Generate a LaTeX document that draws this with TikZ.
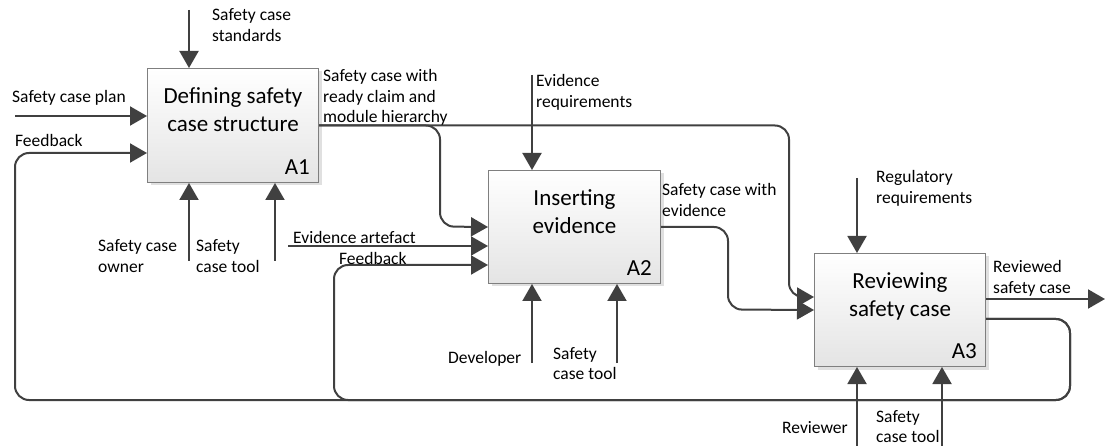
\documentclass[tikz,border=0pt]{standalone}
\usepackage{fontspec}
\setmainfont{Carlito}
\usetikzlibrary{arrows.meta,shadows}
\definecolor{ink}{HTML}{404040}
\definecolor{boxline}{HTML}{7F7F7F}
\definecolor{boxlow}{HTML}{E4E4E4}
\begin{document}
\begin{tikzpicture}[x=1pt,y=-1pt,
  flow/.style={draw=ink, line width=2pt, rounded corners=14pt,
    -{Triangle[length=17pt,width=19pt]}},
  proc/.style={draw=boxline, line width=1pt, top color=white, bottom color=boxlow,
    anchor=north west, inner sep=0pt,
    drop shadow={shadow xshift=3pt, shadow yshift=-3pt, fill=black!12, opacity=1}},
  title/.style={font=\fontsize{23}{28.5}\selectfont, align=center, anchor=base, inner sep=0pt},
  tag/.style={font=\fontsize{23}{28}\selectfont, anchor=base east, inner sep=0pt},
  lab/.style={font=\fontsize{17.5}{20.5}\selectfont, align=left, anchor=base west, inner sep=0pt},
]
\useasboundingbox (0,0) rectangle (1114,446);

% activity boxes
\node[proc, minimum width=171pt, minimum height=114pt] (a1) at (147,68) {};
\node[proc, minimum width=172pt, minimum height=113pt] (a2) at (488,170) {};
\node[proc, minimum width=171pt, minimum height=113pt] (a3) at (814,253) {};

% titles (the base anchor sits on the last line)
\node[title] (a1t) at ([yshift=-64pt]a1.north) {Defining safety\\case structure};
\node[title] (a2t) at ([yshift=-64pt]a2.north) {Inserting\\evidence};
\node[title] (a3t) at ([yshift=-64pt]a3.north) {Reviewing\\safety case};

\node[tag] (a1n) at ([xshift=-9pt,yshift=8.5pt]a1.south east) {A1};
\node[tag] (a2n) at ([xshift=-9pt,yshift=8.5pt]a2.south east) {A2};
\node[tag] (a3n) at ([xshift=-9pt,yshift=8.5pt]a3.south east) {A3};

% free ends of the arrows
\coordinate (std) at (189,10);
\coordinate (plan) at (15,116);
\coordinate (own) at (189,261);
\coordinate (tl1) at (275,261);
\coordinate (art) at (288,246);
\coordinate (req) at (532,75);
\coordinate (dev) at (532,363);
\coordinate (tl2) at (617,363);
\coordinate (reg) at (857,178);
\coordinate (rvw) at (857,446);
\coordinate (tl3) at (942,446);
\coordinate (done) at (1105,299);

% controls and mechanisms
\draw[flow] (std) -- (std |- a1.north);
\draw[flow] (own) -- (own |- a1.south);
\draw[flow] (tl1) -- (tl1 |- a1.south);
\draw[flow] (req) -- (req |- a2.north);
\draw[flow] (dev) -- (dev |- a2.south);
\draw[flow] (tl2) -- (tl2 |- a2.south);
\draw[flow] (reg) -- (reg |- a3.north);
\draw[flow] (rvw) -- (rvw |- a3.south);
\draw[flow] (tl3) -- (tl3 |- a3.south);

% inputs and outputs
\draw[flow] (plan) -- (a1.west |- plan);
\draw[flow] (art) -- (a2.west |- art);
\draw[flow] (a1.east) -| (440,226.5) -- (a2.west);
\draw[flow] (a1.east) -| (789,297) -- (a3.west |- 0,297);
\draw[flow] (a2.east) -| (728,309.5) -- (a3.west);
\draw[flow] (a3.east |- done) -- (done);

% feedback loops
\draw[flow] (a3.east |- 0,319) -- (1070,319) -- (1070,400) -- (15,400) -- (15,153) -- (a1.west |- 0,153);
\draw[flow] (a3.east |- 0,319) -- (1070,319) -- (1070,400) -- (334,400) -- (334,265) -- (a2.west |- 0,265);

% labels (the base anchor sits on the last line)
\node[lab] (lstd) at (212,41.5) {Safety case\\standards};
\node[lab] (lplan) at (12,103) {Safety case plan};
\node[lab] (lfb1) at (15,147) {Feedback};
\node[lab] (lout1) at (323,123) {Safety case with\\ready claim and\\module hierarchy};
\node[lab] (lown) at (98,272.5) {Safety case\\owner};
\node[lab] (ltl1) at (196,272.5) {Safety\\case tool};
\node[lab] (lart) at (293,244) {Evidence artefact};
\node[lab] (lfb2) at (339,265) {Feedback};
\node[lab] (lreq) at (536,107.5) {Evidence\\requirements};
\node[lab] (lout2) at (662,216.5) {Safety case with\\evidence};
\node[lab] (ldev) at (448,363) {Developer};
\node[lab] (ltl2) at (553,379.5) {Safety\\case tool};
\node[lab] (lreg) at (876,203.5) {Regulatory\\requirements};
\node[lab] (ldone) at (993,293.5) {Reviewed\\safety case};
\node[lab] (lrvw) at (782,433) {Reviewer};
\node[lab] (ltl3) at (876,442.5) {Safety\\case tool};
\end{tikzpicture}
\end{document}
